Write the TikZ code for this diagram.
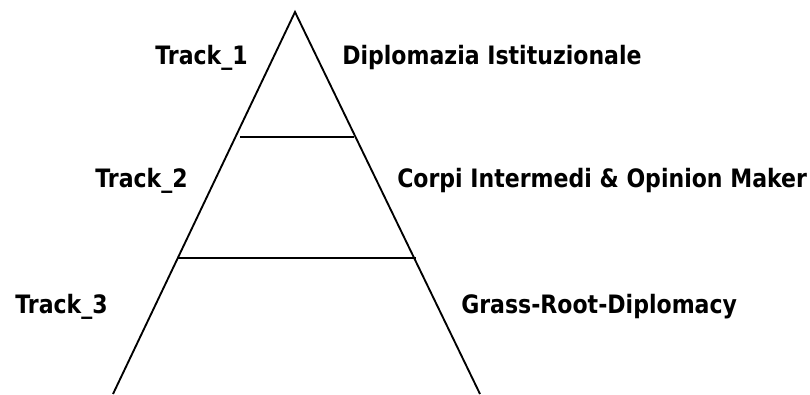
\documentclass[tikz,border=0pt]{standalone}
\usepackage{fontspec}
\setmainfont{DejaVu Sans}[FakeStretch=0.87]
\usepackage{tikz}
\usetikzlibrary{positioning}
\tikzset{
  trackname/.style={anchor=base west, inner sep=0pt, font=\fontsize{19}{23}\selectfont\bfseries},
  sideline/.style={line width=1.4pt},
}

\begin{document}
\begin{tikzpicture}[x=0.75pt, y=-0.75pt]
    \useasboundingbox (0,0) rectangle (810,394);
    \coordinate (top) at (295,12);
    \coordinate (bl) at (113,394);
    \coordinate (br) at (480,394);
    \coordinate (l1) at (240,137);
    \coordinate (r1) at (354,137);
    \coordinate (l2) at (177,258);
    \coordinate (r2) at (416,258);
    \node[trackname] (t1) at (155,64) {Track\_1};
    \node[trackname] (t2) at (95,187) {Track\_2};
    \node[trackname] (t3) at (15,313) {Track\_3};
    \node[trackname] (d1) at (342,64) {Diplomazia Istituzionale};
    \node[trackname] (d2) at (397,187) {Corpi Intermedi \& Opinion Maker};
    \node[trackname] (d3) at (461,313) {Grass-Root-Diplomacy};
    \draw[sideline] (bl) -- (top) -- (br);
    \draw[sideline] (l1) -- (r1);
    \draw[sideline] (l2) -- (r2);
\end{tikzpicture}
\end{document}
